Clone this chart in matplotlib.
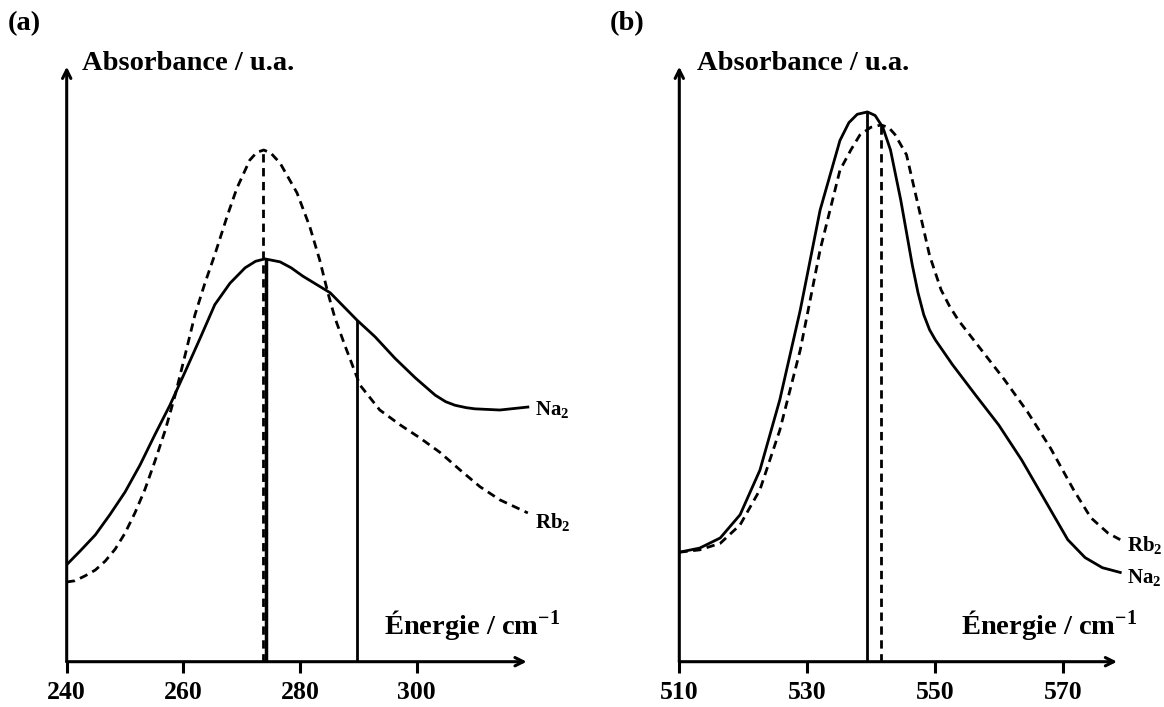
import matplotlib
matplotlib.use("Agg")
import matplotlib.pyplot as plt

plt.rcParams['font.family'] = ['Liberation Serif', 'DejaVu Serif']
plt.rcParams['font.weight'] = 'bold'
plt.rcParams['mathtext.fontset'] = 'custom'
plt.rcParams['mathtext.rm'] = 'Liberation Serif:bold'
plt.rcParams['mathtext.bf'] = 'Liberation Serif:bold'
plt.rcParams['mathtext.it'] = 'Liberation Serif:bold'
plt.rcParams['mathtext.default'] = 'rm'

# (a) low energy band
xa_na = [240.0, 242.3, 244.9, 247.4, 250.0, 252.6, 255.1, 257.7, 260.3, 262.9, 265.4, 268.0, 270.6,
         272.4, 274.0, 276.6, 278.5, 280.5, 285.2, 289.8, 292.9, 296.3, 299.8, 303.2, 305.0, 306.6,
         308.5, 310.0, 314.3, 319.1]
ya_na = [16.3, 18.6, 21.3, 24.7, 28.5, 33.1, 38.1, 43.1, 48.7, 54.4, 60.0, 63.6, 66.2,
         67.3, 67.7, 67.2, 66.2, 64.8, 62.0, 57.4, 54.6, 51.0, 47.7, 44.8, 43.7, 43.1,
         42.7, 42.5, 42.3, 42.8]
xa_rb = [240.0, 241.4, 243.1, 244.9, 246.6, 248.3, 250.0, 251.7, 253.4, 255.1, 256.9, 258.6, 260.3,
         262.0, 263.7, 265.4, 267.6, 269.2, 271.4, 272.6, 273.8, 275.0, 276.6, 279.5, 281.7, 283.4,
         284.8, 286.0, 287.7, 290.3, 293.7, 297.2, 300.6, 304.0, 307.5, 310.9, 314.3, 319.1]
ya_rb = [13.4, 13.6, 14.4, 15.4, 16.9, 18.9, 21.6, 25.0, 28.9, 33.6, 38.9, 44.8, 51.5,
         58.3, 63.6, 68.4, 75.1, 79.6, 84.3, 85.6, 86.0, 85.5, 83.8, 78.8, 73.1, 67.5,
         62.0, 57.8, 53.2, 46.5, 42.3, 39.8, 37.6, 35.2, 32.2, 29.4, 27.2, 25.0]
a_peak_rb, a_peak_na, a_mark_na = 273.75, 274.2, 289.8
a_ticks = [240, 260, 280, 300]

# (b) high energy band
xb_na = [510.0, 513.2, 516.4, 519.5, 522.6, 525.7, 528.9, 532.0, 535.1, 536.5, 537.8, 539.4, 540.6,
         541.8, 543.0, 544.6, 546.4, 547.3, 548.2, 549.1, 550.0, 552.7, 556.3, 559.9, 563.5, 567.1,
         570.7, 573.4, 576.1, 578.9]
yb_na = [18.4, 19.1, 20.8, 24.7, 32.2, 44.0, 59.1, 75.9, 87.6, 90.6, 92.0, 92.4, 91.8,
         89.8, 86.0, 77.6, 66.7, 62.0, 58.3, 55.8, 54.1, 49.9, 44.8, 39.8, 33.9, 27.2,
         20.5, 17.5, 15.8, 15.0]
xb_rb = [510.0, 513.2, 516.4, 519.5, 522.6, 525.7, 528.9, 532.0, 535.1, 536.8, 538.2, 539.9, 541.5,
         542.7, 543.7, 545.5, 547.3, 549.1, 550.9, 552.2, 553.6, 557.2, 560.8, 564.4, 568.0, 571.6,
         574.3, 577.0, 578.9]
yb_rb = [18.4, 18.8, 19.9, 23.0, 28.9, 38.9, 52.4, 69.2, 82.6, 86.0, 88.5, 89.8, 90.2,
         89.8, 88.6, 85.2, 76.8, 68.3, 62.5, 59.8, 57.4, 52.4, 47.4, 42.0, 35.9, 28.9,
         24.2, 21.6, 20.5]
b_peak_na, b_peak_rb = 539.4, 541.5
b_ticks = [510, 530, 550, 570]

W, H = 1164, 707
fig = plt.figure(figsize=(W / 100, H / 100), dpi=100)


def fx(px):
    return px / W


def fy(py):
    return 1 - py / H


def make_axes(left_px, right_px, xmin, xmax, ticks, arrow_x):
    ax = fig.add_axes([fx(left_px), 45.3 / H, (right_px - left_px) / W, 595 / H])
    ax.set_xlim(xmin, xmax)
    ax.set_ylim(0, 100)
    for s in ax.spines.values():
        s.set_visible(False)
    ax.set_yticks([])
    ax.set_xticks(ticks)
    ax.tick_params(axis='x', direction='out', length=8, width=2.2, pad=6, labelsize=18.5)
    arrow = dict(arrowstyle='->,head_length=0.6,head_width=0.3', lw=2.2, color='black',
                 shrinkA=0, shrinkB=0)
    ax.annotate('', xy=(arrow_x, 0), xytext=(xmin, 0), arrowprops=arrow, annotation_clip=False)
    ax.annotate('', xy=(xmin, 100), xytext=(xmin, 0), arrowprops=arrow, annotation_clip=False)
    return ax


def vline(ax, x, ytop, **kw):
    ax.plot([x, x], [0, ytop], color='black', solid_capstyle='butt', **kw)


axL = make_axes(66.7, 533.1, 240, 320, a_ticks, 318.9)
axL.plot(xa_na, ya_na, color='black', lw=2)
axL.plot(xa_rb, ya_rb, color='black', lw=2, dashes=(3, 2))
vline(axL, a_peak_rb, max(ya_rb), lw=2, dashes=(3, 2))
vline(axL, a_peak_na, max(ya_na), lw=2.5)
vline(axL, a_mark_na, ya_na[xa_na.index(a_mark_na)], lw=2)

axR = make_axes(679.3, 1127.3, 510, 580, b_ticks, 578.4)
axR.plot(xb_na, yb_na, color='black', lw=2)
axR.plot(xb_rb, yb_rb, color='black', lw=2, dashes=(3, 2))
vline(axR, b_peak_na, max(yb_na), lw=2)
vline(axR, b_peak_rb, max(yb_rb), lw=2, dashes=(3, 2))

txt = dict(fontsize=20.5, fontweight='bold', va='center')
fig.text(fx(8), fy(24), '(a)', ha='left', **txt)
fig.text(fx(610), fy(24), '(b)', ha='left', **txt)
fig.text(fx(82), fy(64), 'Absorbance / u.a.', ha='left', **txt)
fig.text(fx(697), fy(64), 'Absorbance / u.a.', ha='left', **txt)
fig.text(fx(560), fy(625), 'Énergie / cm$^{-1}$', ha='right', **txt)
fig.text(fx(1137), fy(625), 'Énergie / cm$^{-1}$', ha='right', **txt)

lab = dict(fontsize=15, fontweight='bold', va='center', ha='left')
fig.text(fx(535), fy(410), 'Na$_2$', **lab)
fig.text(fx(535), fy(522), 'Rb$_2$', **lab)
fig.text(fx(1127), fy(545), 'Rb$_2$', **lab)
fig.text(fx(1127), fy(577), 'Na$_2$', **lab)

fig.savefig('out.png', dpi=100)
